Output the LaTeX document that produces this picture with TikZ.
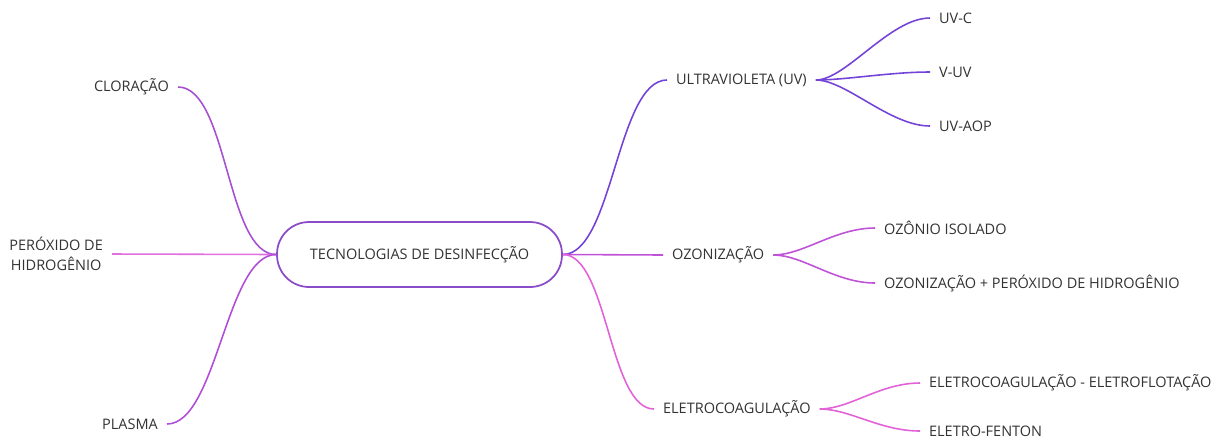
\documentclass[tikz,border=0pt]{standalone}
\usepackage{fontspec}
\setmainfont{Open Sans}
\usepackage{tikz}
\usetikzlibrary{positioning}
\definecolor{txt}{HTML}{333333}
\definecolor{hubline}{HTML}{8A4CC8}
\definecolor{clorc}{HTML}{A650D2}
\definecolor{peroxc}{HTML}{E070E0}
\definecolor{plasc}{HTML}{B04ED8}
\definecolor{uvc}{HTML}{7444D8}
\definecolor{ozoc}{HTML}{C052D8}
\definecolor{eletc}{HTML}{E262D8}

\begin{document}
\begin{tikzpicture}[x=0.02cm,y=-0.02cm,
  every node/.style={font=\fontsize{8.25}{11.5}\selectfont,text=txt},
  leaf/.style={inner xsep=5pt,inner ysep=2pt},
  hub/.style={draw=hubline,line width=1pt,rounded corners=0.64cm,
    minimum width=5.7cm,minimum height=1.3cm},
  link/.style={line width=0.9pt}]
\useasboundingbox (0,0) rectangle (1211,441);
% centre
\node[hub] (hub) at (419.5,254.5) {TECNOLOGIAS DE DESINFECÇÃO};
% left side
\node[leaf,anchor=east] (clor) at (178,87) {CLORAÇÃO};
\node[leaf,anchor=east,align=center] (perox) at (112,254) {PERÓXIDO DE\\HIDROGÊNIO};
\node[leaf,anchor=east] (plas) at (167,424) {PLASMA};
% right side
\node[leaf,anchor=west] (uv) at (667,80) {ULTRAVIOLETA (UV)};
\node[leaf,anchor=west] (ozo) at (663,255) {OZONIZAÇÃO};
\node[leaf,anchor=west] (elet) at (654,409) {ELETROCOAGULAÇÃO};
% leaves
\node[leaf,anchor=west] (uvc1) at (930,18) {UV-C};
\node[leaf,anchor=west] (uvc2) at (930,72) {V-UV};
\node[leaf,anchor=west] (uvc3) at (930,126) {UV-AOP};
\node[leaf,anchor=west] (ozo1) at (875,228) {OZÔNIO ISOLADO};
\node[leaf,anchor=west] (ozo2) at (875,283) {OZONIZAÇÃO + PERÓXIDO DE HIDROGÊNIO};
\node[leaf,anchor=west] (elet1) at (920,383) {ELETROCOAGULAÇÃO - ELETROFLOTAÇÃO};
\node[leaf,anchor=west] (elet2) at (920,431) {ELETRO-FENTON};
% connectors
\draw[link,clorc] (hub.west) .. controls +(-50,0) and +(50,0) .. (clor.east);
\draw[link,peroxc] (hub.west) -- (perox.east);
\draw[link,plasc] (hub.west) .. controls +(-50,0) and +(50,0) .. (plas.east);
\draw[link,uvc] (hub.east) .. controls +(50,0) and +(-50,0) .. (uv.west);
\draw[link,ozoc] (hub.east) -- (ozo.west);
\draw[link,eletc] (hub.east) .. controls +(45,0) and +(-45,0) .. (elet.west);
\foreach \leafnode in {uvc1,uvc2,uvc3}
  \draw[link,uvc] (uv.east) .. controls +(30,0) and +(-40,0) .. (\leafnode.west);
\foreach \leafnode in {ozo1,ozo2}
  \draw[link,ozoc] (ozo.east) .. controls +(30,0) and +(-40,0) .. (\leafnode.west);
\foreach \leafnode in {elet1,elet2}
  \draw[link,eletc] (elet.east) .. controls +(30,0) and +(-40,0) .. (\leafnode.west);
\end{tikzpicture}
\end{document}
